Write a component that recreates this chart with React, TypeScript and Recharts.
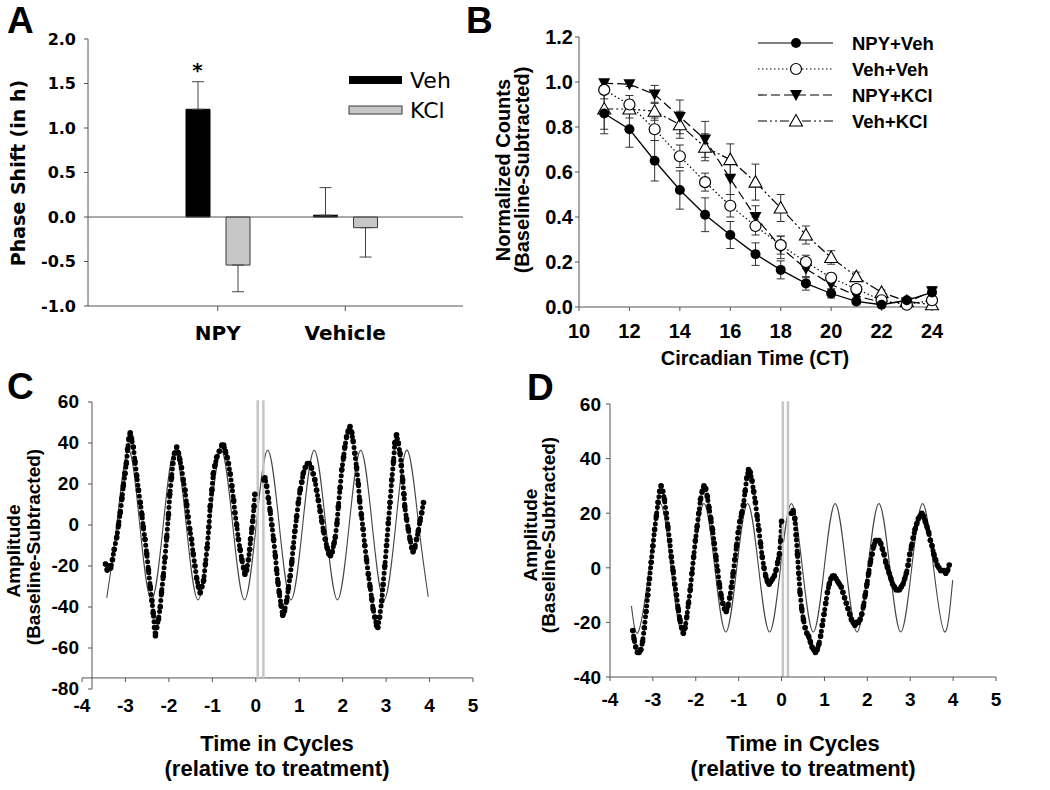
import React from 'react';
import { BarChart, Bar, XAxis, YAxis, ErrorBar, ReferenceLine, ComposedChart, Line } from 'recharts';

const AX = '#555';
const ARIAL = 'Liberation Sans, Arial, sans-serif';
const DEJA = 'DejaVu Sans, Verdana, sans-serif';

// ---------- Panel A ----------
const groups = ['NPY', 'Vehicle'];
const vehShift = [1.21, 0.02];
const vehShiftErr = [0.31, 0.31];
const kclShift = [-0.54, -0.12];
const kclShiftErr = [0.30, 0.33];
const phaseTicks = [-1, -0.5, 0, 0.5, 1, 1.5, 2];
const legendA = ['Veh', 'KCl'];

// ---------- Panel B ----------
const ctHours = [11, 12, 13, 14, 15, 16, 17, 18, 19, 20, 21, 22, 23, 24];
const ctTicks = [10, 12, 14, 16, 18, 20, 22, 24];
const countTicks = [0, 0.2, 0.4, 0.6, 0.8, 1.0, 1.2];
const npyVeh = [0.86, 0.79, 0.65, 0.52, 0.41, 0.32, 0.235, 0.165, 0.105, 0.06, 0.025, 0.01, 0.03, 0.065];
const npyVehErr = [0.09, 0.08, 0.09, 0.085, 0.075, 0.06, 0.05, 0.04, 0.03, 0.02, 0.015, 0.01, 0.01, 0.02];
const vehVeh = [0.965, 0.9, 0.79, 0.67, 0.555, 0.45, 0.36, 0.275, 0.2, 0.13, 0.08, 0.03, 0.01, 0.03];
const vehVehErr = [0.04, 0.04, 0.05, 0.05, 0.04, 0.05, 0.04, 0.04, 0.03, 0.02, 0.02, 0.01, 0.01, 0.01];
const npyKcl = [0.995, 0.99, 0.945, 0.845, 0.745, 0.57, 0.4, 0.265, 0.17, 0.1, 0.05, 0.02, 0.02, 0.07];
const npyKclErr = [0.01, 0.01, 0.04, 0.075, 0.08, 0.07, 0.05, 0.05, 0.04, 0.02, 0.02, 0.01, 0.01, 0.02];
const vehKcl = [0.88, 0.88, 0.87, 0.81, 0.71, 0.655, 0.555, 0.44, 0.32, 0.22, 0.135, 0.065, 0.025, 0.01];
const vehKclErr = [0.09, 0.04, 0.04, 0.06, 0.06, 0.07, 0.08, 0.06, 0.04, 0.03, 0.02, 0.01, 0.01, 0.01];
const seriesB = ['NPY+Veh', 'Veh+Veh', 'NPY+KCl', 'Veh+KCl'];

// ---------- Panel C ----------
const cycleTicks = [-4, -3, -2, -1, 0, 1, 2, 3, 4, 5];
const ampTicksC = [-80, -60, -40, -20, 0, 20, 40, 60];
const cPreX = [-3.46, -3.42, -3.38, -3.34, -3.30, -3.26, -3.20, -3.16, -3.12, -3.08, -3.05, -3.01, -2.98, -2.95, -2.92, -2.89, -2.86, -2.82, -2.78, -2.74, -2.70, -2.66, -2.62, -2.59, -2.55, -2.51, -2.47, -2.43, -2.39, -2.36, -2.33, -2.31, -2.28, -2.24, -2.20, -2.17, -2.13, -2.09, -2.05, -2.01, -1.98, -1.94, -1.91, -1.87, -1.82, -1.78, -1.75, -1.71, -1.67, -1.63, -1.59, -1.56, -1.52, -1.48, -1.44, -1.40, -1.36, -1.32, -1.28, -1.24, -1.20, -1.16, -1.12, -1.08, -1.05, -1.01, -0.98, -0.94, -0.90, -0.84, -0.78, -0.74, -0.70, -0.66, -0.63, -0.59, -0.55, -0.51, -0.48, -0.44, -0.40, -0.36, -0.32, -0.28, -0.25, -0.21, -0.17, -0.14, -0.12, -0.09, -0.07, -0.04, -0.02];
const cPreY = [-19, -22, -20, -21, -17, -12, -6, 0, 6, 13, 19, 25, 30, 37, 42, 45, 42, 38, 31, 24, 17, 11, 5, -1, -7, -14, -22, -30, -37, -43, -50, -54, -50, -46, -40, -33, -25, -16, -6, 5, 15, 23, 30, 35, 38, 35, 32, 28, 22, 17, 10, 4, -2, -7, -14, -20, -26, -30, -33, -30, -27, -19, -11, -1, 9, 17, 25, 29, 33, 36, 39, 39, 36, 33, 30, 25, 19, 12, 6, 0, -7, -12, -17, -21, -24, -22, -17, -12, -7, -2, 2, 9, 15];
const cPostX = [0.19, 0.21, 0.25, 0.29, 0.33, 0.37, 0.41, 0.45, 0.48, 0.51, 0.54, 0.58, 0.62, 0.66, 0.71, 0.75, 0.79, 0.83, 0.86, 0.90, 0.94, 0.98, 1.02, 1.06, 1.09, 1.14, 1.19, 1.23, 1.28, 1.32, 1.36, 1.40, 1.44, 1.48, 1.52, 1.56, 1.60, 1.64, 1.68, 1.72, 1.76, 1.80, 1.83, 1.87, 1.90, 1.94, 1.98, 2.02, 2.05, 2.09, 2.13, 2.17, 2.21, 2.24, 2.28, 2.32, 2.36, 2.39, 2.43, 2.47, 2.51, 2.55, 2.59, 2.63, 2.67, 2.70, 2.74, 2.78, 2.81, 2.85, 2.90, 2.93, 2.97, 3.01, 3.05, 3.09, 3.13, 3.17, 3.20, 3.24, 3.28, 3.32, 3.35, 3.38, 3.41, 3.43, 3.47, 3.51, 3.55, 3.59, 3.62, 3.66, 3.70, 3.74, 3.78, 3.82, 3.86];
const cPostY = [22, 23, 19, 13, 7, 0, -7, -15, -22, -28, -33, -39, -44, -42, -37, -31, -25, -18, -11, -3, 4, 11, 17, 21, 25, 28, 30, 30, 28, 25, 22, 17, 12, 7, 2, -3, -7, -11, -14, -15, -13, -9, -6, 1, 9, 18, 27, 33, 38, 43, 46, 48, 45, 41, 35, 28, 20, 12, 5, -2, -10, -17, -24, -30, -36, -41, -45, -49, -50, -45, -37, -29, -20, -10, 1, 11, 22, 31, 40, 44, 40, 35, 29, 22, 15, 9, 3, -2, -7, -11, -13, -11, -7, -3, 2, 6, 11];
const cFitX = [-3.43, -3.2, -2.935, -2.67, -2.40, -2.13, -1.865, -1.60, -1.33, -1.06, -0.795, -0.53, -0.26, 0.01, 0.275, 0.54, 0.81, 1.08, 1.345, 1.61, 1.88, 2.15, 2.415, 2.68, 2.95, 3.22, 3.485, 3.75, 3.97];
const cFitY = [-35.5, 0, 36.5, 0, -36.5, 0, 36.5, 0, -36.5, 0, 36.5, 0, -36.5, 0, 36.5, 0, -36.5, 0, 36.5, 0, -36.5, 0, 36.5, 0, -36.5, 0, 36.5, 0, -35];
const cTreatment = [0.045, 0.175];

// ---------- Panel D ----------
const ampTicksD = [-40, -20, 0, 20, 40, 60];
const dPreX = [-3.47, -3.44, -3.40, -3.36, -3.32, -3.28, -3.24, -3.20, -3.16, -3.12, -3.08, -3.04, -3.00, -2.96, -2.92, -2.88, -2.84, -2.81, -2.77, -2.73, -2.69, -2.65, -2.61, -2.57, -2.53, -2.49, -2.45, -2.41, -2.37, -2.33, -2.29, -2.25, -2.21, -2.17, -2.13, -2.09, -2.05, -2.01, -1.97, -1.93, -1.89, -1.85, -1.81, -1.77, -1.73, -1.69, -1.65, -1.61, -1.57, -1.53, -1.49, -1.45, -1.41, -1.37, -1.33, -1.29, -1.25, -1.21, -1.17, -1.13, -1.09, -1.05, -1.01, -0.97, -0.93, -0.89, -0.85, -0.81, -0.77, -0.73, -0.69, -0.65, -0.61, -0.57, -0.53, -0.49, -0.45, -0.41, -0.37, -0.33, -0.29, -0.25, -0.21, -0.17, -0.13, -0.09, -0.05, -0.02, 0.0];
const dPreY = [-23, -26, -29, -31, -31, -30, -27, -22, -16, -10, -4, 2, 8, 14, 19, 24, 28, 30, 28, 25, 20, 15, 10, 4, -1, -6, -10, -15, -19, -22, -24, -22, -18, -13, -8, -2, 4, 10, 15, 20, 25, 28, 30, 29, 26, 22, 18, 14, 9, 4, -1, -6, -10, -13, -15, -16, -14, -11, -7, -2, 3, 8, 13, 17, 20, 23, 28, 33, 36, 35, 32, 28, 24, 19, 14, 9, 4, 0, -3, -5, -6, -5, -4, -3, -1, 2, 5, 10, 17];
const dPostX = [0.23, 0.27, 0.31, 0.34, 0.37, 0.40, 0.43, 0.47, 0.51, 0.55, 0.59, 0.63, 0.67, 0.71, 0.75, 0.79, 0.83, 0.87, 0.91, 0.95, 0.99, 1.03, 1.07, 1.11, 1.15, 1.19, 1.23, 1.27, 1.31, 1.35, 1.39, 1.43, 1.47, 1.51, 1.55, 1.59, 1.63, 1.67, 1.71, 1.75, 1.79, 1.83, 1.87, 1.91, 1.95, 1.99, 2.03, 2.07, 2.11, 2.15, 2.19, 2.23, 2.27, 2.31, 2.35, 2.39, 2.43, 2.47, 2.51, 2.55, 2.59, 2.63, 2.67, 2.71, 2.75, 2.79, 2.83, 2.87, 2.91, 2.95, 2.99, 3.03, 3.07, 3.11, 3.15, 3.19, 3.23, 3.27, 3.31, 3.35, 3.39, 3.43, 3.47, 3.51, 3.55, 3.59, 3.63, 3.67, 3.71, 3.75, 3.79, 3.83, 3.87, 3.91];
const dPostY = [20, 21, 18, 12, 5, -2, -9, -15, -19, -22, -24, -25, -27, -29, -30, -31, -30, -28, -25, -21, -17, -13, -9, -6, -4, -3, -3, -4, -5, -6, -7, -9, -11, -13, -15, -17, -19, -20, -21, -20, -20, -19, -17, -14, -10, -6, -2, 2, 5, 8, 10, 10, 10, 9, 7, 5, 2, 0, -2, -4, -6, -7, -8, -8, -8, -7, -6, -4, -2, 1, 5, 8, 11, 14, 16, 18, 19, 20, 19, 17, 15, 13, 10, 8, 5, 3, 1, 0, -1, -1, -1, -2, -1, 1];
const dFitX = [-3.50, -3.34, -3.085, -2.83, -2.575, -2.32, -2.065, -1.81, -1.555, -1.30, -1.045, -0.79, -0.535, -0.28, -0.025, 0.23, 0.485, 0.74, 0.995, 1.25, 1.505, 1.76, 2.015, 2.27, 2.525, 2.78, 3.035, 3.29, 3.545, 3.80, 3.99];
const dFitY = [-14, -23.5, 0, 23.5, 0, -23.5, 0, 23.5, 0, -23.5, 0, 23.5, 0, -23.5, 0, 23.5, 0, -23.5, 0, 23.5, 0, -23.5, 0, 23.5, 0, -23.5, 0, 23.5, 0, -23.5, -4.5];
const dTreatment = [0.03, 0.15];

// ---------- built tables ----------
const dataA = groups.map((g, i) => ({
  group: g,
  veh: vehShift[i],
  vehErr: vehShift[i] >= 0 ? [0, vehShiftErr[i]] : [vehShiftErr[i], 0],
  kcl: kclShift[i],
  kclErr: kclShift[i] >= 0 ? [0, kclShiftErr[i]] : [kclShiftErr[i], 0],
}));
const dataB = ctHours.map((ct, i) => ({
  ct,
  npyVeh: npyVeh[i], npyVehErr: npyVehErr[i],
  vehVeh: vehVeh[i], vehVehErr: vehVehErr[i],
  npyKcl: npyKcl[i], npyKclErr: npyKclErr[i],
  vehKcl: vehKcl[i], vehKclErr: vehKclErr[i],
}));
const pts = (xs: number[], ys: number[]) => xs.map((x, i) => ({ x, y: ys[i] }));
const cPre = pts(cPreX, cPreY);
const cPost = pts(cPostX, cPostY);
const cFit = pts(cFitX, cFitY);
const dPre = pts(dPreX, dPreY);
const dPost = pts(dPostX, dPostY);
const dFit = pts(dFitX, dFitY);

// ---------- markers ----------
type Kind = 'fc' | 'oc' | 'fd' | 'ou';
const markerShape = (kind: Kind, cx: number, cy: number, key?: string) => {
  if (kind === 'fc') return <circle key={key} cx={cx} cy={cy} r={5} fill="#000" />;
  if (kind === 'oc') return <circle key={key} cx={cx} cy={cy} r={5.5} fill="#fff" stroke="#000" strokeWidth={1.2} />;
  if (kind === 'fd')
    return <polygon key={key} points={`${cx - 6},${cy - 5} ${cx + 6},${cy - 5} ${cx},${cy + 6}`} fill="#000" />;
  return <polygon key={key} points={`${cx - 6.5},${cy + 5} ${cx + 6.5},${cy + 5} ${cx},${cy - 6.5}`} fill="#fff" stroke="#000" strokeWidth={1.1} />;
};
const dotFn = (kind: Kind) => (p: any) => markerShape(kind, p.cx, p.cy, `${kind}-${p.index}`);

const traceDot = { r: 2.8, fill: '#000', stroke: 'none' };

// ---------- custom ticks for panel C (offset axes) ----------
const C_XLINE = -74.6; // value where the x-axis line is drawn
const C_YLINE = -3.77; // value where the y-axis line is drawn
const tickStyleCD = { fontFamily: ARIAL, fontWeight: 'bold' as const, fontSize: 19, fill: '#000' };

const CXTick = (p: any) => (
  <g>
    <line x1={p.x} x2={p.x} y1={p.y - 11} y2={p.y - 7} stroke={AX} />
    <text x={p.x} y={p.y + 16} dy="0.36em" textAnchor="middle" style={tickStyleCD}>{p.payload.value}</text>
  </g>
);
const CYTick = (p: any) => (
  <g>
    <line x1={p.x + 6} x2={p.x + 10} y1={p.y} y2={p.y} stroke={AX} />
    <text x={p.x - 3} y={p.y - 1} dy="0.36em" textAnchor="end" style={tickStyleCD}>{p.payload.value}</text>
  </g>
);

const PanelA = () => (
  <div style={{ position: 'absolute', left: 0, top: 0 }}>
    <BarChart width={480} height={360} data={dataA} margin={{ top: 39, right: 17, bottom: 24, left: 28 }} barGap={16} barSize={24}>
      <XAxis dataKey="group" height={30} padding={{ left: 66, right: 54 }} stroke={AX} tickSize={5} tickMargin={15}
        tick={{ fill: '#000', fontSize: 20, fontWeight: 'bold', fontFamily: DEJA }} />
      <YAxis type="number" domain={[-1, 2]} ticks={phaseTicks} interval={0} width={60} stroke={AX} tickSize={4} tickMargin={8}
        tickFormatter={(v: number) => v.toFixed(1)} tick={{ fill: '#000', fontSize: 16, fontWeight: 'bold', fontFamily: DEJA }} />
      <ReferenceLine y={0} stroke={AX} />
      <Bar dataKey="veh" fill="#000" stroke="#000" isAnimationActive={false}>
        <ErrorBar dataKey="vehErr" width={6} stroke="#444" strokeWidth={1} />
      </Bar>
      <Bar dataKey="kcl" fill="#c6c6c6" stroke="#3a3a3a" strokeWidth={1} isAnimationActive={false}>
        <ErrorBar dataKey="kclErr" width={6} stroke="#444" strokeWidth={1} />
      </Bar>
    </BarChart>
  </div>
);

const PanelB = () => (
  <div style={{ position: 'absolute', left: 420, top: 0 }}>
    <ComposedChart width={630} height={380} data={dataB} margin={{ top: 37, right: 118, bottom: 43, left: 99 }}>
      <XAxis type="number" dataKey="ct" domain={[10, 24]} ticks={ctTicks} interval={0} height={30} stroke={AX} tickSize={4} tickMargin={13}
        tick={{ fill: '#000', fontSize: 20, fontWeight: 'bold', fontFamily: ARIAL }} />
      <YAxis type="number" domain={[0, 1.2]} ticks={countTicks} interval={0} width={60} stroke={AX} tickSize={4} tickMargin={2}
        tickFormatter={(v: number) => v.toFixed(1)} tick={{ fill: '#000', fontSize: 20, fontWeight: 'bold', fontFamily: ARIAL }} />
      <Line dataKey="vehKcl" stroke="#000" strokeWidth={1.2} strokeDasharray="9 3 2 3 2 3" dot={dotFn('ou')} isAnimationActive={false}>
        <ErrorBar dataKey="vehKclErr" width={4} stroke="#333" strokeWidth={1} />
      </Line>
      <Line dataKey="npyKcl" stroke="#000" strokeWidth={1.2} strokeDasharray="9 4" dot={dotFn('fd')} isAnimationActive={false}>
        <ErrorBar dataKey="npyKclErr" width={4} stroke="#333" strokeWidth={1} />
      </Line>
      <Line dataKey="vehVeh" stroke="#000" strokeWidth={1.2} strokeDasharray="1.5 2.5" dot={dotFn('oc')} isAnimationActive={false}>
        <ErrorBar dataKey="vehVehErr" width={4} stroke="#333" strokeWidth={1} />
      </Line>
      <Line dataKey="npyVeh" stroke="#000" strokeWidth={1.3} dot={dotFn('fc')} isAnimationActive={false}>
        <ErrorBar dataKey="npyVehErr" width={4} stroke="#333" strokeWidth={1} />
      </Line>
    </ComposedChart>
  </div>
);

const PanelC = () => (
  <div style={{ position: 'absolute', left: 0, top: 360 }}>
    <ComposedChart width={520} height={430} margin={{ top: 42, right: 47, bottom: 71, left: 42 }}>
      <XAxis type="number" dataKey="x" domain={[-4, 5]} ticks={cycleTicks} interval={0} height={30}
        axisLine={false} tickLine={false} tickSize={0} tickMargin={0} tick={(p: any) => <CXTick {...p} />} />
      <YAxis type="number" dataKey="y" domain={[-80, 60]} ticks={ampTicksC} interval={0} width={40}
        axisLine={false} tickLine={false} tickSize={0} tickMargin={0} tick={(p: any) => <CYTick {...p} />} />
      <ReferenceLine segment={[{ x: -4, y: C_XLINE }, { x: 5, y: C_XLINE }]} stroke={AX} ifOverflow="visible" />
      <ReferenceLine segment={[{ x: C_YLINE, y: -80 }, { x: C_YLINE, y: 60 }]} stroke={AX} ifOverflow="visible" />
      <Line data={cFit} dataKey="y" type="natural" stroke="#444" strokeWidth={1.1} dot={false} isAnimationActive={false} />
      <Line data={cPre} dataKey="y" type="linear" stroke="#000" strokeWidth={5} strokeLinecap="round" strokeDasharray="0 5.5" dot={traceDot} isAnimationActive={false} />
      <Line data={cPost} dataKey="y" type="linear" stroke="#000" strokeWidth={5} strokeLinecap="round" strokeDasharray="0 5.5" dot={traceDot} isAnimationActive={false} />
      {cTreatment.map((t) => (
        <ReferenceLine key={t} segment={[{ x: t, y: C_XLINE }, { x: t, y: 60.8 }]} stroke="#c6c6c6" strokeWidth={2.5} ifOverflow="visible" />
      ))}
    </ComposedChart>
  </div>
);

const PanelD = () => (
  <div style={{ position: 'absolute', left: 520, top: 360 }}>
    <ComposedChart width={530} height={430} margin={{ top: 44, right: 54, bottom: 83, left: 50 }}>
      <XAxis type="number" dataKey="x" domain={[-4, 5]} ticks={cycleTicks} interval={0} height={30} stroke={AX} tickSize={4} tickMargin={12}
        tick={tickStyleCD} />
      <YAxis type="number" dataKey="y" domain={[-40, 60]} ticks={ampTicksD} interval={0} width={40} stroke={AX} tickSize={4} tickMargin={5}
        tick={tickStyleCD} />
      <Line data={dFit} dataKey="y" type="natural" stroke="#444" strokeWidth={1.1} dot={false} isAnimationActive={false} />
      <Line data={dPre} dataKey="y" type="linear" stroke="#000" strokeWidth={5} strokeLinecap="round" strokeDasharray="0 5.5" dot={traceDot} isAnimationActive={false} />
      <Line data={dPost} dataKey="y" type="linear" stroke="#000" strokeWidth={5} strokeLinecap="round" strokeDasharray="0 5.5" dot={traceDot} isAnimationActive={false} />
      {dTreatment.map((t) => (
        <ReferenceLine key={t} segment={[{ x: t, y: -40 }, { x: t, y: 61 }]} stroke="#c6c6c6" strokeWidth={2.5} ifOverflow="visible" />
      ))}
    </ComposedChart>
  </div>
);

const bDash = ['', '1.5 2.5', '9 4', '9 3 2 3 2 3'];
const bKinds: Kind[] = ['fc', 'oc', 'fd', 'ou'];
const bold = (size: number, fam = ARIAL) => ({ fontFamily: fam, fontWeight: 'bold' as const, fontSize: size, fill: '#000' });

const Overlay = () => (
  <svg width={1050} height={790} style={{ position: 'absolute', left: 0, top: 0, pointerEvents: 'none' }}>
    {/* panel letters */}
    <text x={7} y={33} style={bold(37)}>A</text>
    <text x={466} y={33} style={bold(37)}>B</text>
    <text x={7} y={399} style={bold(37)}>C</text>
    <text x={527} y={400} style={bold(37)}>D</text>

    {/* Panel A texts */}
    <text x={18} y={173} transform="rotate(-90 18 173)" textAnchor="middle" dominantBaseline="central" style={bold(19, DEJA)}>Phase Shift (in h)</text>
    <text x={197.5} y={77} textAnchor="middle" style={bold(20, DEJA)}>*</text>
    <rect x={349} y={76} width={53} height={8} fill="#000" />
    <rect x={349} y={106} width={53} height={8} fill="#c6c6c6" stroke="#3a3a3a" />
    {legendA.map((s, i) => (
      <text key={s} x={410} y={80 + i * 30} dominantBaseline="central" style={{ fontFamily: DEJA, fontSize: 22, fill: '#000' }}>{s}</text>
    ))}

    {/* Panel B texts */}
    <text x={503} y={170} transform="rotate(-90 503 170)" textAnchor="middle" dominantBaseline="central" style={bold(20)}>Normalized Counts</text>
    <text x={522} y={170} transform="rotate(-90 522 170)" textAnchor="middle" dominantBaseline="central" style={bold(20)}>(Baseline-Subtracted)</text>
    <text x={755} y={358} textAnchor="middle" dominantBaseline="central" style={bold(20)}>Circadian Time (CT)</text>
    {seriesB.map((s, i) => {
      const y = 43 + i * 26;
      return (
        <g key={s}>
          <line x1={758} x2={833} y1={y} y2={y} stroke="#000" strokeWidth={1.2} strokeDasharray={bDash[i] || undefined} />
          {markerShape(bKinds[i], 796, y)}
          <text x={852} y={y} dominantBaseline="central" style={bold(18.5)}>{s}</text>
        </g>
      );
    })}

    {/* Panel C texts */}
    <text x={13} y={551} transform="rotate(-90 13 551)" textAnchor="middle" dominantBaseline="central" style={bold(19)}>Amplitude</text>
    <text x={33} y={547} transform="rotate(-90 33 547)" textAnchor="middle" dominantBaseline="central" style={bold(19)}>(Baseline-Subtracted)</text>
    <text x={277} y={751} textAnchor="middle" style={bold(22)}>Time in Cycles</text>
    <text x={277} y={776} textAnchor="middle" style={bold(22)}>(relative to treatment)</text>

    {/* Panel D texts */}
    <text x={530} y={535} transform="rotate(-90 530 535)" textAnchor="middle" dominantBaseline="central" style={bold(19)}>Amplitude</text>
    <text x={548} y={535} transform="rotate(-90 548 535)" textAnchor="middle" dominantBaseline="central" style={bold(19)}>(Baseline-Subtracted)</text>
    <text x={803} y={751} textAnchor="middle" style={bold(22)}>Time in Cycles</text>
    <text x={803} y={776} textAnchor="middle" style={bold(22)}>(relative to treatment)</text>
  </svg>
);

export default function App() {
  return (
    <div style={{ position: 'absolute', left: 0, top: 0, width: 1050, height: 790, background: '#fff' }}>
      <PanelA />
      <PanelB />
      <PanelC />
      <PanelD />
      <Overlay />
    </div>
  );
}
